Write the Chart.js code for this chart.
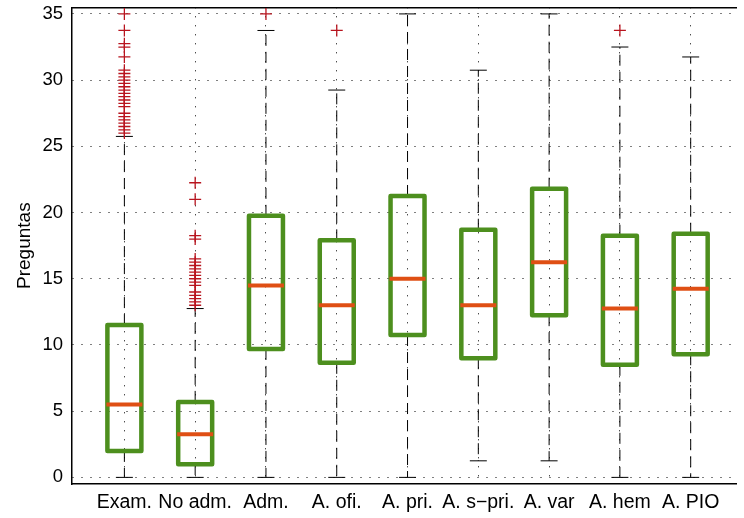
<!DOCTYPE html>
<html>
<head>
<meta charset="utf-8">
<script src="https://cdn.jsdelivr.net/npm/chart.js@4.4.0/dist/chart.umd.min.js"></script>
<style>
  html, body { margin: 0; padding: 0; background: #fff; }
  #caja { width: 744px; height: 518px; position: relative; }
</style>
</head>
<body>
<div id="caja"><canvas id="grafico"></canvas></div>
<script>
const categorias = ['Exam.', 'No adm.', 'Adm.', 'A. ofi.', 'A. pri.', 'A. s\u2212pri.', 'A. var', 'A. hem', 'A. PIO'];

const bigoteMin = [0, 0, 0, 0, 0, 1.25, 1.25, 0, 0];
const cuartil1  = [2, 1, 9.7, 8.65, 10.75, 9, 12.25, 8.5, 9.3];
const mediana   = [5.5, 3.25, 14.5, 13, 15, 13, 16.25, 12.75, 14.25];
const cuartil3  = [11.5, 5.7, 19.75, 17.9, 21.25, 18.7, 21.8, 18.25, 18.4];
const bigoteMax = [25.75, 12.75, 33.75, 29.25, 35, 30.75, 35, 32.5, 31.75];

const atipicosExam = [26, 26.25, 26.5, 26.75, 27, 27.25, 27.5, 28, 28.25, 28.5, 28.75, 29, 29.25,
                      29.5, 29.75, 30, 30.25, 30.5, 30.75, 31.75, 32.5, 32.75, 33.75, 35];
const atipicosNoAdm = [13, 13.25, 13.5, 13.75, 14, 14.5, 14.75, 15, 15.25, 15.5, 15.75, 16, 16.25,
                       16.5, 18, 18.25, 21, 22.25];
const atipicos = [atipicosExam, atipicosNoAdm, [35], [33.75], [], [], [], [33.75], []];

const ticksY = [0, 5, 10, 15, 20, 25, 30, 35];

const familia = "'Liberation Sans', Arial, sans-serif";

// puntos atipicos como scatter
const puntos = [];
atipicos.forEach((lista, i) => lista.forEach(v => puntos.push({ x: i, y: v })));

// dibuja cajas, bigotes y medianas usando las escalas
const cajas = {
    id: 'cajas',
    beforeDatasetsDraw(chart) {
        const { ctx, scales: { x, y } } = chart;
        ctx.save();
        categorias.forEach((c, i) => {
            const px = x.getPixelForValue(i);
            const medio = x.getPixelForValue(i + 0.24) - px;
            const tapa = x.getPixelForValue(i + 0.12) - px;

            // bigotes
            ctx.strokeStyle = '#000';
            ctx.lineWidth = 1;
            ctx.setLineDash([11, 6]);
            ctx.beginPath();
            ctx.moveTo(px, y.getPixelForValue(cuartil3[i]));
            ctx.lineTo(px, y.getPixelForValue(bigoteMax[i]));
            ctx.moveTo(px, y.getPixelForValue(cuartil1[i]));
            ctx.lineTo(px, y.getPixelForValue(bigoteMin[i]));
            ctx.stroke();
            ctx.setLineDash([]);
            ctx.beginPath();
            ctx.moveTo(px - tapa, y.getPixelForValue(bigoteMax[i]));
            ctx.lineTo(px + tapa, y.getPixelForValue(bigoteMax[i]));
            ctx.moveTo(px - tapa, y.getPixelForValue(bigoteMin[i]));
            ctx.lineTo(px + tapa, y.getPixelForValue(bigoteMin[i]));
            ctx.stroke();

            // caja
            const y1 = y.getPixelForValue(cuartil3[i]);
            const y0 = y.getPixelForValue(cuartil1[i]);
            ctx.strokeStyle = '#4d8f1e';
            ctx.lineWidth = 4.5;
            ctx.lineJoin = 'round';
            ctx.strokeRect(px - medio, y1, 2 * medio, y0 - y1);

            // mediana
            const ym = y.getPixelForValue(mediana[i]);
            ctx.strokeStyle = '#df4f14';
            ctx.lineWidth = 4;
            ctx.beginPath();
            ctx.moveTo(px - medio - 1, ym);
            ctx.lineTo(px + medio + 1, ym);
            ctx.stroke();
        });
        ctx.restore();
    }
};

const ctx = document.getElementById('grafico').getContext('2d');

const grafico = new Chart(ctx, {
    type: 'scatter',
    data: {
        datasets: [{
            label: 'atipicos',
            data: puntos,
            pointStyle: 'cross',
            pointRadius: 6,
            borderColor: '#b8141e',
            backgroundColor: '#b8141e',
            borderWidth: 1.3
        }]
    },
    options: {
        responsive: true,
        maintainAspectRatio: false,
        animation: false,
        layout: { padding: 0 },
        plugins: {
            legend: { display: false },
            tooltip: { enabled: false }
        },
        scales: {
            x: {
                type: 'linear',
                position: 'bottom',
                min: -0.74,
                max: 8.65,
                afterBuildTicks: (s) => { s.ticks = categorias.map((c, i) => ({ value: i })); },
                afterFit: (s) => { s.height = 34; s.paddingLeft = 0; s.paddingRight = 0; },
                ticks: {
                    autoSkip: false,
                    maxRotation: 0,
                    color: '#000',
                    font: { family: familia, size: 19.5 },
                    padding: 7,
                    callback: (v) => categorias[v] ?? ''
                },
                grid: { color: '#000', lineWidth: 1, drawTicks: false },
                border: { color: '#000', width: 1.5, dash: [1, 8] }
            },
            x2: {
                type: 'linear',
                position: 'top',
                min: -0.74,
                max: 8.65,
                afterFit: (s) => { s.height = 7; s.paddingLeft = 0; s.paddingRight = 0; },
                ticks: { display: false },
                grid: { display: false, drawTicks: false },
                border: { color: '#000', width: 1.5 }
            },
            y: {
                min: -0.5,
                max: 35.5,
                afterBuildTicks: (s) => { s.ticks = ticksY.map(v => ({ value: v })); },
                afterFit: (s) => { s.width = 72; s.paddingTop = 0; s.paddingBottom = 0; },
                ticks: {
                    color: '#000',
                    font: { family: familia, size: 18.5 },
                    padding: 9
                },
                grid: { color: '#000', lineWidth: 1, drawTicks: false },
                border: { color: '#000', width: 1.5, dash: [1, 8] },
                title: {
                    display: true,
                    text: 'Preguntas',
                    color: '#000',
                    font: { family: familia, size: 19 },
                    padding: { top: 13, bottom: 0 }
                }
            }
        }
    },
    plugins: [cajas]
});
</script>
</body>
</html>
